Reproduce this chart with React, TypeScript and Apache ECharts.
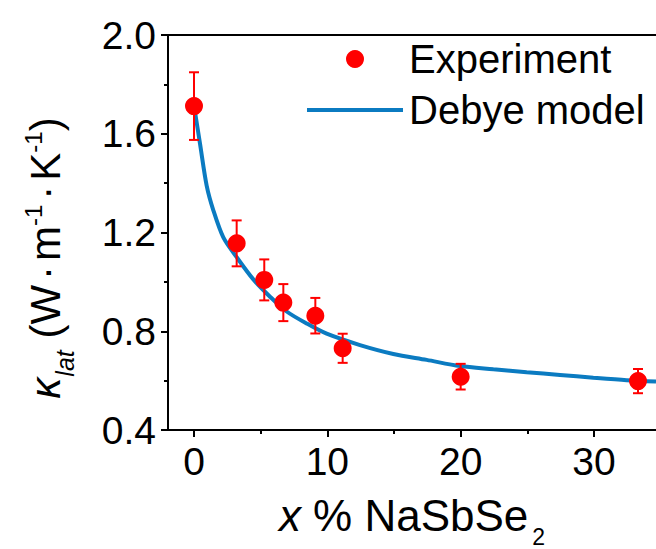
import React, { useEffect, useRef } from "react";
import * as echarts from "echarts";

// ---- data ----
const expX = [0, 3.2, 5.27, 6.7, 9.1, 11.15, 20, 33.3];
const expK = [1.712, 1.156, 1.008, 0.916, 0.863, 0.731, 0.616, 0.598];
const expErr = [0.137, 0.093, 0.083, 0.075, 0.072, 0.059, 0.052, 0.049];

const modelX = [0.1, 0.45, 0.95, 1.45, 2.2, 3.2, 4.45, 5.7, 6.95, 8.5, 9.95, 12.45, 14.95, 17.45, 19.95, 22.45, 24.95, 27.45, 29.95, 32.45, 34.65];
const modelK = [1.68, 1.56, 1.39, 1.29, 1.18, 1.1, 1.01, 0.94, 0.88, 0.83, 0.79, 0.744, 0.708, 0.684, 0.659, 0.646, 0.634, 0.623, 0.612, 0.602, 0.596];

const xMajorTicks = [0, 10, 20, 30];
const xMinorTicks = [5, 15, 25];
const legendNames = ["Experiment", "Debye model"];

const FONT = "'Liberation Sans', Arial, Helvetica, sans-serif";
const RED = "#ff0000";
const BLUE = "#0b7bc1";

export default function App() {
  const ref = useRef<HTMLDivElement>(null);

  useEffect(() => {
    if (!ref.current) return;
    const chart = echarts.init(ref.current, undefined, { renderer: "svg" });

    const expData = expX.map((x, i) => [x, expK[i]]);
    const errData = expX.map((x, i) => [x, expK[i] - expErr[i], expK[i] + expErr[i]]);
    const modelData = modelX.map((x, i) => [x, modelK[i]]);

    const axisLineStyle = { color: "#000", width: 2 };

    chart.setOption({
      animation: false,
      backgroundColor: "#fff",
      textStyle: { fontFamily: FONT },
      grid: { left: 168, right: 0, top: 35, bottom: 119, containLabel: false, outerBoundsMode: "none" },
      legend: {
        data: [
          { name: legendNames[0], icon: "circle" },
          { name: legendNames[1], icon: "path://M0,0 L96,0 L96,4 L0,4 Z" },
        ],
        orient: "vertical",
        left: 302,
        top: 32,
        itemWidth: 96,
        itemHeight: 18,
        itemGap: 7,
        textStyle: { fontSize: 40, color: "#000", fontFamily: FONT, lineHeight: 44, padding: [0, 0, 0, 1] },
      },
      xAxis: [
        {
          type: "value",
          position: "bottom",
          min: -1.95,
          max: 34.65,
          axisLine: { show: true, onZero: false, lineStyle: axisLineStyle },
          axisTick: { show: true, length: 7, lineStyle: axisLineStyle, customValues: xMajorTicks },
          axisLabel: { fontSize: 39, color: "#000", margin: 12, fontFamily: FONT, customValues: xMajorTicks },
          splitLine: { show: false },
          name: "{i|x}{n| % NaSbSe}{sub|2}",
          nameLocation: "middle",
          nameGap: 60,
          nameTextStyle: {
            color: "#000",
            rich: {
              i: { fontSize: 44, fontStyle: "italic", fontFamily: FONT, color: "#000", lineHeight: 50 },
              n: { fontSize: 44, fontFamily: FONT, color: "#000", lineHeight: 50 },
              sub: { fontSize: 23, fontFamily: FONT, color: "#000", verticalAlign: "bottom", lineHeight: 23, padding: [0, 0, -8, 4] },
            },
          },
        },
        {
          type: "value",
          position: "bottom",
          min: -1.95,
          max: 34.65,
          axisLine: { show: false, onZero: false },
          axisTick: { show: true, length: 4, lineStyle: axisLineStyle, customValues: xMinorTicks },
          axisLabel: { show: false },
          splitLine: { show: false },
        },
        {
          type: "value",
          position: "top",
          min: -1.95,
          max: 34.65,
          axisLine: { show: true, onZero: false, lineStyle: axisLineStyle },
          axisTick: { show: false },
          axisLabel: { show: false },
          splitLine: { show: false },
        },
      ],
      yAxis: {
        type: "value",
        min: 0.4,
        max: 2.0,
        interval: 0.4,
        axisLine: { show: true, onZero: false, lineStyle: axisLineStyle },
        axisTick: { show: true, length: 7, lineStyle: axisLineStyle },
        minorTick: { show: true, splitNumber: 2, length: 4, lineStyle: axisLineStyle },
        axisLabel: {
          fontSize: 39,
          color: "#000",
          margin: 12,
          fontFamily: FONT,
          formatter: (v: number) => v.toFixed(1),
        },
        splitLine: { show: false },
      },
      graphic: [
        {
          type: "text",
          x: 45,
          y: 258,
          rotation: Math.PI / 2,
          style: {
            text: "{k|κ}{ks|lat}{n| (W}{d|·}{n|m}{sup|-1}{d|·}{n|K}{sup|-1}{n|)}",
            align: "center",
            verticalAlign: "middle",
            fill: "#000",
            rich: {
              k: { fontSize: 42, fontStyle: "italic", fontFamily: FONT, fill: "#000", lineHeight: 48 },
              ks: { fontSize: 25, fontStyle: "italic", fontFamily: FONT, fill: "#000", verticalAlign: "bottom", lineHeight: 25, padding: [0, 0, -8, 1] },
              n: { fontSize: 42, fontFamily: FONT, fill: "#000", lineHeight: 48 },
              d: { fontSize: 42, fontFamily: FONT, fill: "#000", lineHeight: 48, padding: [0, 5, 0, 5] },
              sup: { fontSize: 24, fontFamily: FONT, fill: "#000", verticalAlign: "top", lineHeight: 22 },
            },
          },
        },
      ],
      series: [
        {
          name: "Debye model",
          type: "line",
          data: modelData,
          smooth: 0.3,
          symbol: "none",
          showSymbol: false,
          lineStyle: { color: BLUE, width: 4 },
          itemStyle: { color: BLUE },
          z: 2,
        },
        {
          name: "errors",
          type: "custom",
          data: errData,
          encode: { x: 0, y: [1, 2] },
          z: 3,
          renderItem: (params: any, api: any) => {
            const x = api.value(0);
            const lo = api.value(1);
            const hi = api.value(2);
            const top = api.coord([x, hi]);
            const bot = api.coord([x, lo]);
            const hw = 5;
            const st = { stroke: RED, lineWidth: 2 };
            return {
              type: "group",
              children: [
                { type: "line", shape: { x1: top[0], y1: top[1], x2: bot[0], y2: bot[1] }, style: st },
                { type: "line", shape: { x1: top[0] - hw, y1: top[1], x2: top[0] + hw, y2: top[1] }, style: st },
                { type: "line", shape: { x1: bot[0] - hw, y1: bot[1], x2: bot[0] + hw, y2: bot[1] }, style: st },
              ],
            };
          },
        },
        {
          name: "Experiment",
          type: "scatter",
          data: expData,
          symbol: "circle",
          symbolSize: 18,
          itemStyle: { color: RED, opacity: 1 },
          z: 4,
        },
      ],
    });

    return () => chart.dispose();
  }, []);

  return (
    <div
      ref={ref}
      style={{ position: "fixed", left: 0, top: 0, width: 656, height: 549, background: "#fff" }}
    />
  );
}
